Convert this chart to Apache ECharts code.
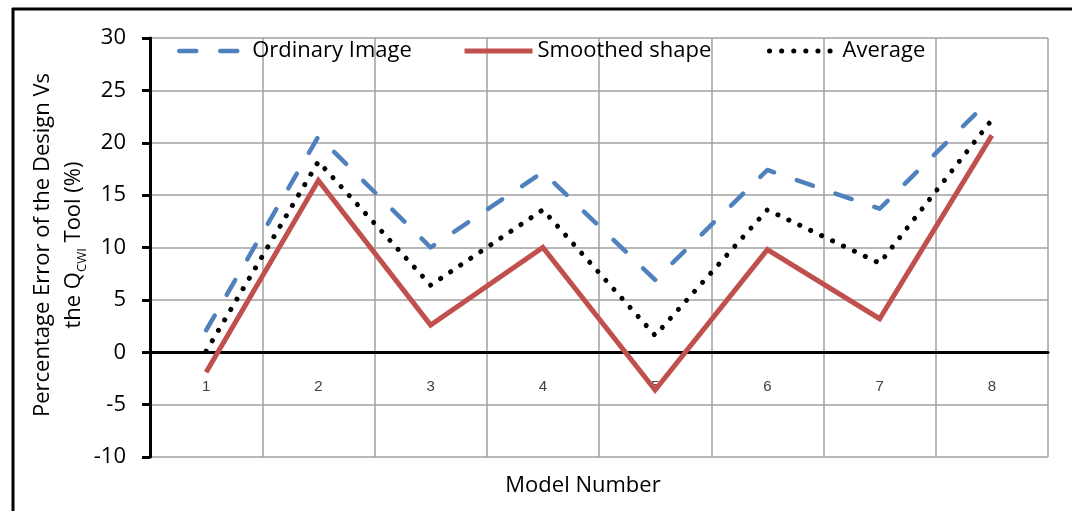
<!DOCTYPE html>
<html>
<head>
<meta charset="utf-8">
<script src="https://cdn.jsdelivr.net/npm/echarts@6/dist/echarts.min.js"></script>
<style>
  html, body { margin: 0; padding: 0; background: #ffffff; }
  #chart { width: 1072px; height: 511px; }
</style>
</head>
<body>
<div id="chart"></div>
<script>
// Model numbers along the category axis
const models = ['1', '2', '3', '4', '5', '6', '7', '8'];

// Percentage error for each method
const ordinaryImage = [2.1, 20.6, 10.0, 17.2, 6.9, 17.4, 13.7, 24.3];
const smoothedShape = [-1.9, 16.4, 2.6, 10.0, -3.6, 9.8, 3.2, 20.7];
const average = [0.1, 18.2, 6.4, 13.6, 1.6, 13.6, 8.5, 22.2];

// Value axis range and step
const yMin = -10;
const yMax = 30;
const yStep = 5;

const seriesNames = ['Ordinary Image', 'Smoothed shape', 'Average'];

const FONT = 'Open Sans';
const gridGray = '#a0a0a0';

// line looks shared by each series and its legend entry
const styles = [
  { color: '#4F81BD', width: 4.5, type: [17, 24], cap: 'round', join: 'round' },
  { color: '#C0504D', width: 5, type: 'solid', cap: 'butt', join: 'miter' },
  { color: '#000000', width: 5, type: [0.1, 12], cap: 'round', join: 'round' }
];

const chart = echarts.init(document.getElementById('chart'), null, { renderer: 'canvas' });

function legendAt(i, left) {
  return {
    data: [seriesNames[i]],
    left: left,
    top: 35,
    itemWidth: 68,
    itemHeight: 26,
    itemGap: 0,
    itemStyle: { opacity: 0 },
    lineStyle: Object.assign({}, styles[i]),
    textStyle: { fontFamily: FONT, fontSize: 22, color: '#000000', padding: [0, 0, 0, 0] },
    selectedMode: false
  };
}

const option = {
  animation: false,
  backgroundColor: '#ffffff',
  grid: { left: 150, right: 24, top: 38, bottom: 54, containLabel: false },
  legend: [legendAt(0, 172), legendAt(1, 457), legendAt(2, 762)],
  xAxis: {
    type: 'category',
    data: models,
    boundaryGap: true,
    axisLine: { onZero: true, lineStyle: { color: '#000000', width: 3 } },
    axisTick: { show: false },
    // numbers sit just under the zero line
    axisLabel: { margin: -78, fontFamily: 'Liberation Sans', fontSize: 15, color: '#404040' },
    splitLine: { show: true, interval: 0, lineStyle: { color: gridGray, width: 1.5 } }
  },
  yAxis: {
    type: 'value',
    min: yMin,
    max: yMax,
    interval: yStep,
    axisLine: { show: true, onZero: false, lineStyle: { color: '#000000', width: 3 } },
    axisTick: { show: true, inside: false, length: 8, lineStyle: { color: '#000000', width: 3 } },
    axisLabel: { margin: 24, fontFamily: FONT, fontSize: 22, color: '#000000' },
    splitLine: { show: true, lineStyle: { color: gridGray, width: 1.5 } }
  },
  series: [
    { name: seriesNames[0], type: 'line', data: ordinaryImage, symbol: 'none', color: styles[0].color, lineStyle: styles[0], z: 3 },
    { name: seriesNames[1], type: 'line', data: smoothedShape, symbol: 'none', color: styles[1].color, lineStyle: styles[1], z: 2 },
    { name: seriesNames[2], type: 'line', data: average, symbol: 'none', color: styles[2].color, lineStyle: styles[2], z: 4 }
  ],
  graphic: [
    // outer frame edges
    { type: 'line', shape: { x1: 12, y1: 9, x2: 1072, y2: 9 }, style: { stroke: '#000000', lineWidth: 3 }, silent: true },
    { type: 'line', shape: { x1: 13, y1: 8, x2: 13, y2: 511 }, style: { stroke: '#000000', lineWidth: 3 }, silent: true },
    // value axis title
    {
      type: 'text',
      x: 58,
      y: 245,
      rotation: Math.PI / 2,
      style: {
        text: '{a|Percentage Error of the Design Vs}\n{a|the Q}{s|CWI}{a| Tool (%)}',
        align: 'center',
        verticalAlign: 'middle',
        fill: '#000000',
        rich: {
          a: { fontFamily: FONT, fontSize: 22, lineHeight: 31, fill: '#000000' },
          s: { fontFamily: FONT, fontSize: 13, lineHeight: 22, verticalAlign: 'bottom', fill: '#000000' }
        }
      }
    },
    // category axis title
    {
      type: 'text',
      x: 583,
      y: 486,
      style: {
        text: 'Model Number',
        align: 'center',
        verticalAlign: 'middle',
        fontFamily: FONT,
        fontSize: 22,
        fill: '#000000'
      }
    }
  ]
};

chart.setOption(option);
</script>
</body>
</html>
